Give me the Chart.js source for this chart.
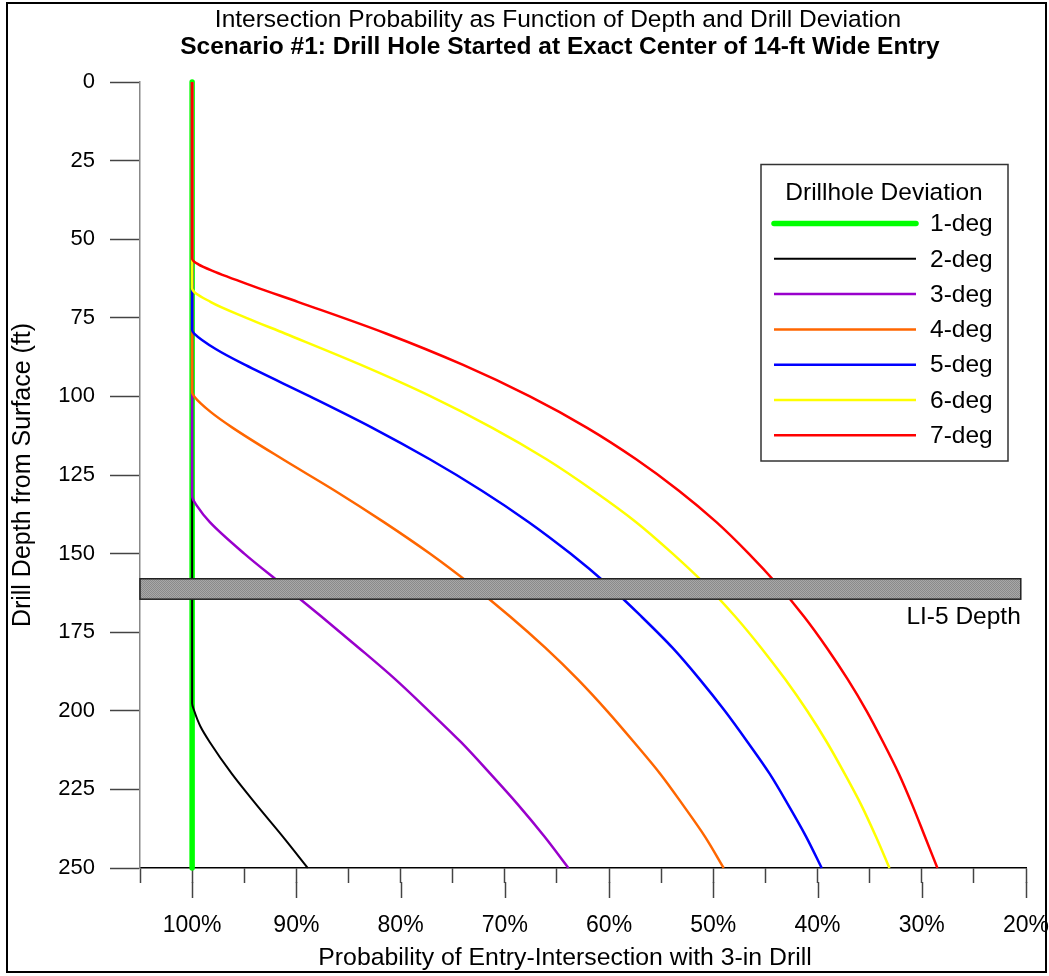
<!DOCTYPE html>
<html>
<head>
<meta charset="utf-8">
<title>Intersection Probability as Function of Depth and Drill Deviation</title>
<script src="https://cdn.jsdelivr.net/npm/chart.js@4.4.1/dist/chart.umd.min.js"></script>
<style>
  html, body { margin: 0; padding: 0; background: #fff; }
  #wrap { width: 1049px; height: 976px; }
</style>
</head>
<body>
<div id="wrap"><canvas id="chart" width="1049" height="976"></canvas></div>
<script>
// depth (ft) / probability (%) pairs
const depth1 = [0, 250];
const prob1 = [100, 100];

const depth2 = [0, 197.6, 200, 205, 210, 220, 230, 240, 250];
const prob2 = [100, 100, 99.8, 99.2, 98.3, 96.2, 93.8, 91.3, 88.9];

const depth3 = [0, 131.7, 135, 140, 150, 160, 170, 180, 190, 200, 210, 220, 230, 240, 250];
const prob3 = [100, 100, 99.5, 98.3, 95.0, 91.3, 87.6, 84.0, 80.5, 77.3, 74.2, 71.4, 68.7, 66.2, 63.9];

const depth4 = [0, 98.7, 100, 105, 110, 120, 130, 140, 150, 160, 170, 180, 190, 200, 210, 220, 230, 240, 250];
const prob4 = [100, 100, 99.8, 98.2, 96.1, 91.3, 86.3, 81.6, 77.2, 73.2, 69.5, 66.1, 63.0, 60.2, 57.6, 55.1, 52.9, 50.8, 49.0];

const depth5 = [0, 78.9, 80, 85, 90, 100, 110, 120, 130, 140, 150, 160, 170, 180, 190, 200, 210, 220, 230, 240, 250];
const prob5 = [100, 100, 99.8, 97.7, 94.9, 88.7, 82.7, 77.2, 72.2, 67.7, 63.7, 60.1, 56.9, 53.9, 51.3, 48.9, 46.7, 44.6, 42.8, 41.1, 39.6];

const depth6 = [0, 65.6, 70, 75, 80, 90, 100, 110, 120, 130, 140, 150, 160, 170, 180, 190, 200, 210, 220, 230, 240, 250];
const prob6 = [100, 100, 98.2, 94.8, 91.1, 83.8, 77.1, 71.2, 66.0, 61.5, 57.4, 53.9, 50.7, 47.9, 45.4, 43.1, 41.0, 39.1, 37.4, 35.8, 34.4, 33.1];

const depth7 = [0, 56.2, 58, 60, 65, 70, 80, 90, 100, 110, 120, 130, 140, 150, 160, 170, 180, 190, 200, 210, 220, 230, 240, 250];
const prob7 = [100, 100, 99.4, 98.1, 94.1, 89.8, 81.4, 74.0, 67.6, 62.1, 57.4, 53.3, 49.7, 46.6, 43.8, 41.3, 39.1, 37.1, 35.3, 33.7, 32.2, 30.9, 29.7, 28.5];

const seriesLabels = ['1-deg', '2-deg', '3-deg', '4-deg', '5-deg', '6-deg', '7-deg'];
const seriesColors = ['#00ff00', '#000000', '#9900cc', '#ff6600', '#0000ff', '#ffff00', '#ff0000'];
const seriesWidths = [5.5, 2, 2.5, 2.5, 2.5, 2.5, 2.5];

const yTicks = [0, 25, 50, 75, 100, 125, 150, 175, 200, 225, 250];
const xTicks = [105, 100, 95, 90, 85, 80, 75, 70, 65, 60, 55, 50, 45, 40, 35, 30, 25, 20];
const xLabelTicks = [100, 90, 80, 70, 60, 50, 40, 30, 20];

// LI-5 depth band (ft) and its right end (%)
const bandDepth = [158, 164.5];
const bandRight = 20.5;

const FONT = "'Liberation Sans', Arial, sans-serif";
Chart.defaults.font.family = FONT;
Chart.defaults.color = '#000';

const allDepths = [depth1, depth2, depth3, depth4, depth5, depth6, depth7];
const allProbs = [prob1, prob2, prob3, prob4, prob5, prob6, prob7];

const datasets = seriesLabels.map((label, i) => ({
  label: label,
  data: allDepths[i].map((d, j) => ({ x: allProbs[i][j], y: d })),
  borderColor: seriesColors[i],
  borderWidth: seriesWidths[i],
  borderCapStyle: i === 0 ? 'round' : 'butt',
  pointRadius: 0,
  cubicInterpolationMode: 'monotone',
  clip: false,
  order: 7 - i   // 7-deg ends up on top
}));

// band, legend box, titles, long ticks and frame
const decor = {
  id: 'decor',
  afterDatasetsDraw(chart) {
    const ctx = chart.ctx;
    const x = chart.scales.x, y = chart.scales.y;
    const x0 = x.getPixelForValue(105), x1 = x.getPixelForValue(bandRight);
    const y0 = y.getPixelForValue(bandDepth[0]), y1 = y.getPixelForValue(bandDepth[1]);

    const pc = document.createElement('canvas');
    pc.width = 2; pc.height = 2;
    const p = pc.getContext('2d');
    p.fillStyle = '#a8a8a8'; p.fillRect(0, 0, 2, 2);
    p.fillStyle = '#8a8a8a'; p.fillRect(0, 0, 1, 1); p.fillRect(1, 1, 1, 1);
    ctx.save();
    ctx.fillStyle = ctx.createPattern(pc, 'repeat');
    ctx.fillRect(x0, y0, x1 - x0, y1 - y0);
    ctx.strokeStyle = '#222';
    ctx.lineWidth = 1.5;
    ctx.strokeRect(x0, y0, x1 - x0, y1 - y0);

    ctx.fillStyle = '#000';
    ctx.font = '24.5px ' + FONT;
    ctx.textAlign = 'right';
    ctx.textBaseline = 'middle';
    ctx.fillText('LI-5 Depth', x1, y1 + 18);
    ctx.restore();
  },
  afterDraw(chart) {
    const ctx = chart.ctx;
    const x = chart.scales.x;
    const bottom = chart.chartArea.bottom;
    ctx.save();

    // long major ticks
    ctx.strokeStyle = '#444';
    ctx.lineWidth = 1.5;
    xLabelTicks.forEach(v => {
      const px = Math.round(x.getPixelForValue(v)) + 0.5;
      ctx.beginPath();
      ctx.moveTo(px, bottom + 14);
      ctx.lineTo(px, bottom + 30);
      ctx.stroke();
    });

    // titles
    ctx.fillStyle = '#000';
    ctx.textAlign = 'center';
    ctx.textBaseline = 'middle';
    ctx.font = '24.5px ' + FONT;
    ctx.fillText('Intersection Probability as Function of Depth and Drill Deviation', 558, 20);
    ctx.font = 'bold 24.5px ' + FONT;
    ctx.fillText('Scenario #1: Drill Hole Started at Exact Center of 14-ft Wide Entry', 560, 47);

    // x axis title
    ctx.font = '24.8px ' + FONT;
    ctx.fillText('Probability of Entry-Intersection with 3-in Drill', 565, 958);

    // legend
    ctx.strokeStyle = '#333';
    ctx.lineWidth = 1.5;
    ctx.strokeRect(761, 164.5, 247, 296.5);
    ctx.font = '24.5px ' + FONT;
    ctx.fillText('Drillhole Deviation', 884, 193);
    ctx.textAlign = 'left';
    chart.data.datasets.forEach((ds, i) => {
      const ly = 223.5 + i * 35.3;
      ctx.strokeStyle = ds.borderColor;
      ctx.lineWidth = ds.borderWidth;
      ctx.lineCap = i === 0 ? 'round' : 'butt';
      ctx.beginPath();
      ctx.moveTo(774, ly);
      ctx.lineTo(916, ly);
      ctx.stroke();
      ctx.fillText(ds.label, 930, ly + 1);
    });

    // outer frame
    ctx.strokeStyle = '#000';
    ctx.lineWidth = 2;
    ctx.lineCap = 'butt';
    ctx.strokeRect(7, 3, 1039, 969);
    ctx.restore();
  }
};

new Chart(document.getElementById('chart'), {
  type: 'line',
  data: { datasets: datasets },
  options: {
    responsive: false,
    animation: false,
    indexAxis: 'y',
    layout: { padding: { top: 82, right: 23, left: 0, bottom: 0 } },
    plugins: {
      legend: { display: false },
      tooltip: { enabled: false }
    },
    scales: {
      x: {
        type: 'linear',
        position: 'bottom',
        min: 20,
        max: 105,
        reverse: true,
        afterFit: s => { s.height = 108; s.paddingLeft = 0; s.paddingRight = 0; },
        afterBuildTicks: s => { s.ticks = xTicks.map(v => ({ value: v })); },
        ticks: {
          autoSkip: false,
          maxRotation: 0,
          padding: 29,
          font: { size: 23 },
          color: '#000',
          callback: v => xLabelTicks.includes(v) ? v + '%' : ''
        },
        grid: { drawOnChartArea: false, tickLength: 15, tickColor: '#444', tickWidth: 1.5 },
        border: { color: '#000', width: 1.5 }
      },
      y: {
        type: 'linear',
        position: 'left',
        min: 0,
        max: 250,
        reverse: true,
        afterFit: s => { s.width = 140; s.paddingTop = 0; s.paddingBottom = 0; },
        afterBuildTicks: s => { s.ticks = yTicks.map(v => ({ value: v })); },
        ticks: { padding: 15, font: { size: 22 }, color: '#000' },
        grid: { drawOnChartArea: false, tickLength: 30, tickColor: '#444', tickWidth: 1.5 },
        border: { color: '#888', width: 1.5 },
        title: {
          display: true,
          text: 'Drill Depth from Surface (ft)',
          font: { size: 25 },
          color: '#000',
          padding: { top: 8, bottom: 0 }
        }
      }
    }
  },
  plugins: [decor]
});
</script>
</body>
</html>
